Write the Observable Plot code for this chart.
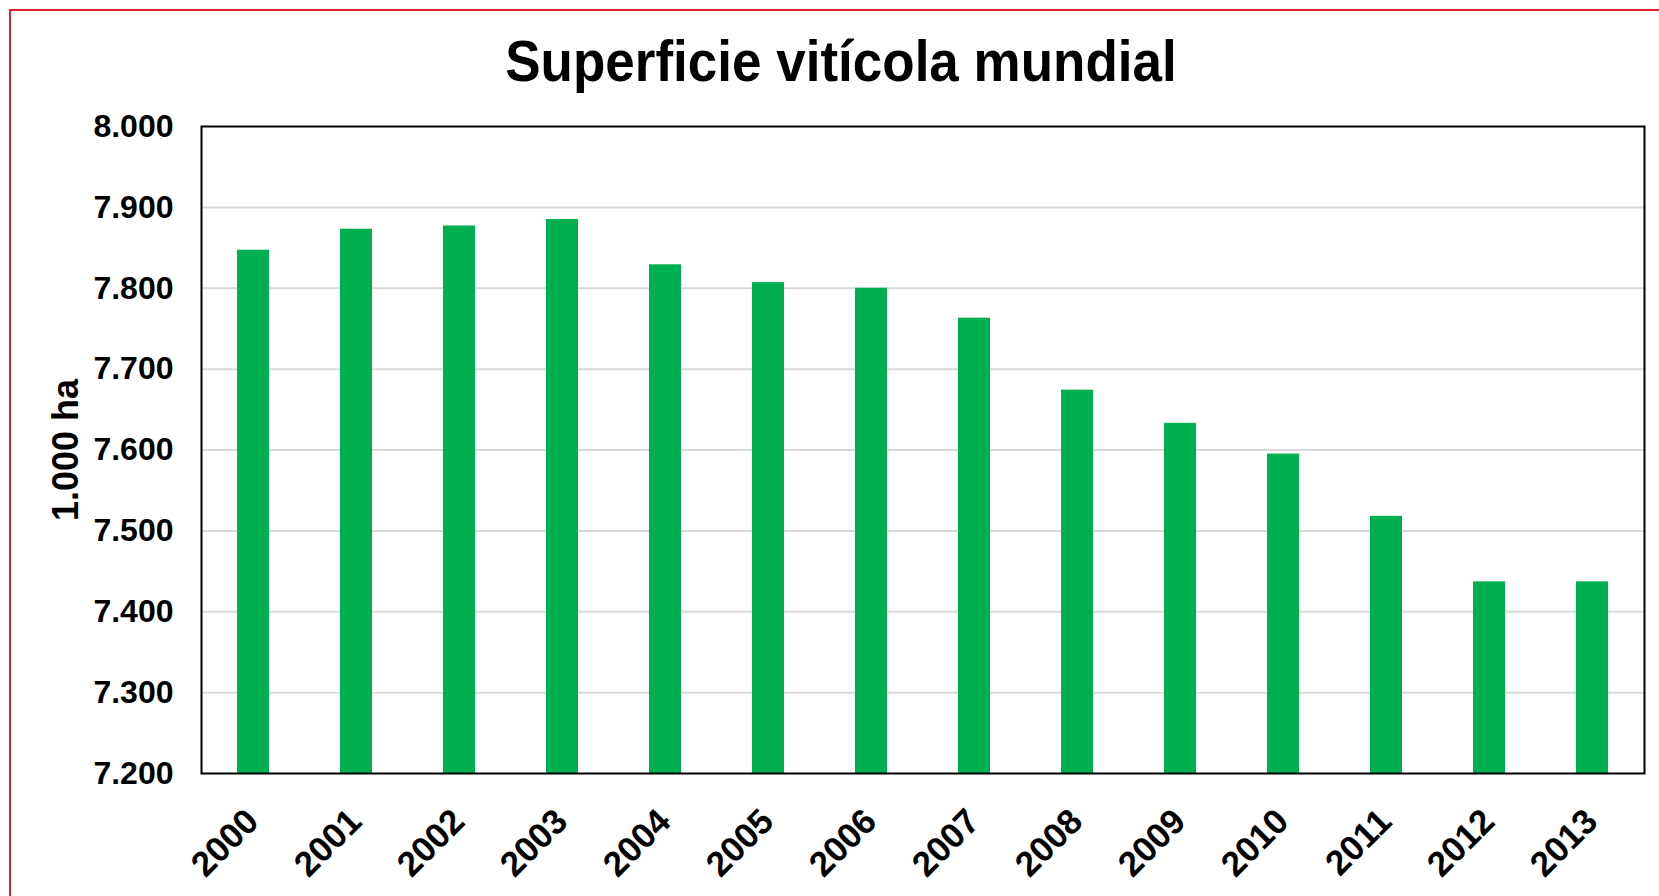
<!DOCTYPE html>
<html>
<head>
<meta charset="utf-8">
<script src="https://cdn.jsdelivr.net/npm/d3@7"></script>
<script src="https://cdn.jsdelivr.net/npm/@observablehq/plot@0.6"></script>
<style>
  html, body { margin: 0; padding: 0; background: #fff; overflow: hidden; width: 1659px; height: 896px; }
  #frame { position: absolute; left: 9px; top: 9px; width: 1700px; height: 1000px; border: 2px solid #d9232e; box-sizing: border-box; }
  #wrap { position: relative; width: 1659px; }
  #title { height: 100px; box-sizing: border-box; padding-top: 33px; padding-left: 23px; width: 1659px; text-align: center;
           font-family: 'Liberation Sans', Arial, sans-serif; font-weight: bold; font-size: 53px; line-height: 60px; color: #000; }
  #title span { display: inline-block; transform: scaleY(1.1); transform-origin: 50% 80%; }
  #chart svg { display: block; }
</style>
</head>
<body>
<div id="frame"></div>
<div id="wrap">
  <div id="title"><span>Superficie vitícola mundial</span></div>
  <div id="chart"></div>
</div>
<script>
const years = ["2000","2001","2002","2003","2004","2005","2006","2007","2008","2009","2010","2011","2012","2013"];
const values = [7847, 7873, 7877, 7885, 7829, 7807, 7800, 7763, 7674, 7633, 7595, 7518, 7437, 7437];
const yTicks = [7200, 7300, 7400, 7500, 7600, 7700, 7800, 7900, 8000];
const yLabel = "1.000 ha";

const data = years.map((y, i) => ({year: y, value: values[i]}));
const esFormat = d3.formatLocale({decimal: ",", thousands: ".", grouping: [3], currency: ["", " €"]}).format(",");
const font = "'Liberation Sans', Arial, sans-serif";

const chart = Plot.plot({
  width: 1659,
  height: 796,
  marginTop: 26,
  marginBottom: 123,
  marginLeft: 201,
  marginRight: 15,
  style: {fontFamily: font, fontSize: "32px", fontWeight: "bold", color: "#000", background: "transparent"},
  x: {domain: years, paddingInner: 0.69, paddingOuter: 0.345, axis: null},
  y: {domain: [7200, 8000], axis: null},
  marks: [
    Plot.ruleY(yTicks.slice(1, -1), {stroke: "#d9d9d9", strokeWidth: 2}),
    Plot.rectY(data, {x: "year", y1: 7200, y2: "value", fill: "#00b050"}),
    Plot.axisY({ticks: yTicks, tickFormat: esFormat, tickSize: 0, tickPadding: 28, label: null, fontSize: 32, fontWeight: "bold", fill: "#000"}),
    Plot.text(years, {x: d => d, frameAnchor: "bottom", text: d => d, rotate: -45, textAnchor: "end", lineAnchor: "bottom",
                      dx: 7, dy: 50, fontSize: 35, fontWeight: "bold", fill: "#000"}),
    Plot.text([yLabel], {frameAnchor: "left", text: d => d, rotate: -90, textAnchor: "middle", lineAnchor: "bottom",
                         dx: -124, fontSize: 36, fontWeight: "bold", fill: "#000"}),
    Plot.frame({stroke: "#000", strokeWidth: 2})
  ]
});
document.getElementById("chart").appendChild(chart);
</script>
</body>
</html>
